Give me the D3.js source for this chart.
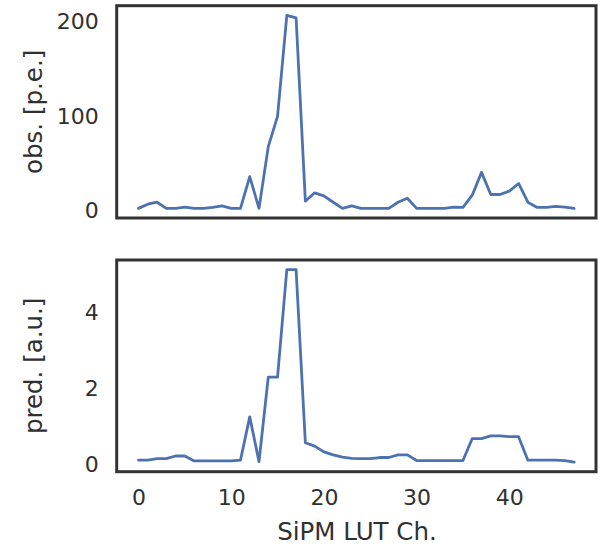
<!DOCTYPE html>
<html>
<head>
<meta charset="utf-8">
<script src="https://cdn.jsdelivr.net/npm/d3@7"></script>
<style>
  html, body { margin: 0; padding: 0; background: #ffffff; }
  svg { display: block; font-family: "DejaVu Sans", sans-serif; }
</style>
</head>
<body>
<svg id="chart" width="600" height="545"></svg>
<script>
// ---- data ----
const channels = d3.range(0, 48);
const obsValues = [
  2, 6.4, 8.5, 2, 2, 3.2, 2, 2, 3, 4.6,
  2, 2, 35.6, 2, 67.6, 99.6, 207, 204.4, 9.6, 18.5,
  15.3, 8.5, 2, 4.6, 2, 2, 2, 2, 8.5, 12.8,
  2, 2, 2, 2, 3.2, 3, 16, 40.2, 16.7, 16.7,
  20.3, 28.4, 8.5, 3, 3, 4, 3.2, 2
];
const predValues = [
  0.11, 0.11, 0.15, 0.15, 0.22, 0.22, 0.09, 0.09, 0.09, 0.09,
  0.09, 0.11, 1.25, 0.07, 2.3, 2.3, 5.13, 5.13, 0.57, 0.48,
  0.33, 0.25, 0.19, 0.16, 0.15, 0.15, 0.18, 0.18, 0.25, 0.25,
  0.1, 0.1, 0.1, 0.1, 0.1, 0.1, 0.68, 0.68, 0.75, 0.75,
  0.73, 0.73, 0.11, 0.11, 0.11, 0.11, 0.1, 0.06
];
const xTicks = [0, 10, 20, 30, 40];
const obsTicks = [0, 100, 200];
const predTicks = [0, 2, 4];
const xLabel = "SiPM LUT Ch.";
const obsLabel = "obs. [p.e.]";
const predLabel = "pred. [a.u.]";

// ---- layout ----
const svg = d3.select("#chart");
const left = 116.7, right = 596;
const panels = [
  { top: 5.7, bottom: 218, values: obsValues, ticks: obsTicks, label: obsLabel, showX: false },
  { top: 260, bottom: 471.7, values: predValues, ticks: predTicks, label: predLabel, showX: true }
];
const lineColor = "#4C72B0";
const textColor = "#303030";
const tickFont = 22;
const labelFont = 24.5;

function padded(ext) {
  const m = (ext[1] - ext[0]) * 0.05;
  return [ext[0] - m, ext[1] + m];
}

const x = d3.scaleLinear().domain(padded(d3.extent(channels))).range([left, right]);

panels.forEach(p => {
  const y = d3.scaleLinear().domain(padded(d3.extent(p.values))).range([p.bottom, p.top]);
  const g = svg.append("g");

  const line = d3.line().x((d, i) => x(channels[i])).y(d => y(d));
  g.append("path")
    .datum(p.values)
    .attr("d", line)
    .attr("fill", "none")
    .attr("stroke", lineColor)
    .attr("stroke-width", 2.8)
    .attr("stroke-linejoin", "round")
    .attr("stroke-linecap", "round");

  // y axis (no tick marks)
  const yAxis = d3.axisLeft(y).tickValues(p.ticks).tickFormat(d3.format("d")).tickSize(0).tickPadding(18);
  const ya = g.append("g").attr("transform", `translate(${left},0)`).call(yAxis);
  ya.select(".domain").remove();
  ya.selectAll("text")
    .attr("font-size", tickFont)
    .attr("font-family", "DejaVu Sans")
    .attr("fill", textColor);

  if (p.showX) {
    const xAxis = d3.axisBottom(x).tickValues(xTicks).tickFormat(d3.format("d")).tickSize(0).tickPadding(18);
    const xa = g.append("g").attr("transform", `translate(0,${p.bottom})`).call(xAxis);
    xa.select(".domain").remove();
    xa.selectAll("text")
      .attr("font-size", tickFont)
      .attr("font-family", "DejaVu Sans")
      .attr("fill", textColor);

    g.append("text")
      .attr("x", 357)
      .attr("y", 540)
      .attr("text-anchor", "middle")
      .attr("font-size", labelFont)
      .attr("fill", textColor)
      .text(xLabel);
  }

  // frame
  g.append("rect")
    .attr("x", left)
    .attr("y", p.top)
    .attr("width", right - left)
    .attr("height", p.bottom - p.top)
    .attr("fill", "none")
    .attr("stroke", "#333333")
    .attr("stroke-width", 3);

  // y label
  const cy = (p.top + p.bottom) / 2;
  g.append("text")
    .attr("transform", `translate(42,${cy}) rotate(-90)`)
    .attr("text-anchor", "middle")
    .attr("font-size", labelFont)
    .attr("fill", textColor)
    .text(p.label);
});
</script>
</body>
</html>
